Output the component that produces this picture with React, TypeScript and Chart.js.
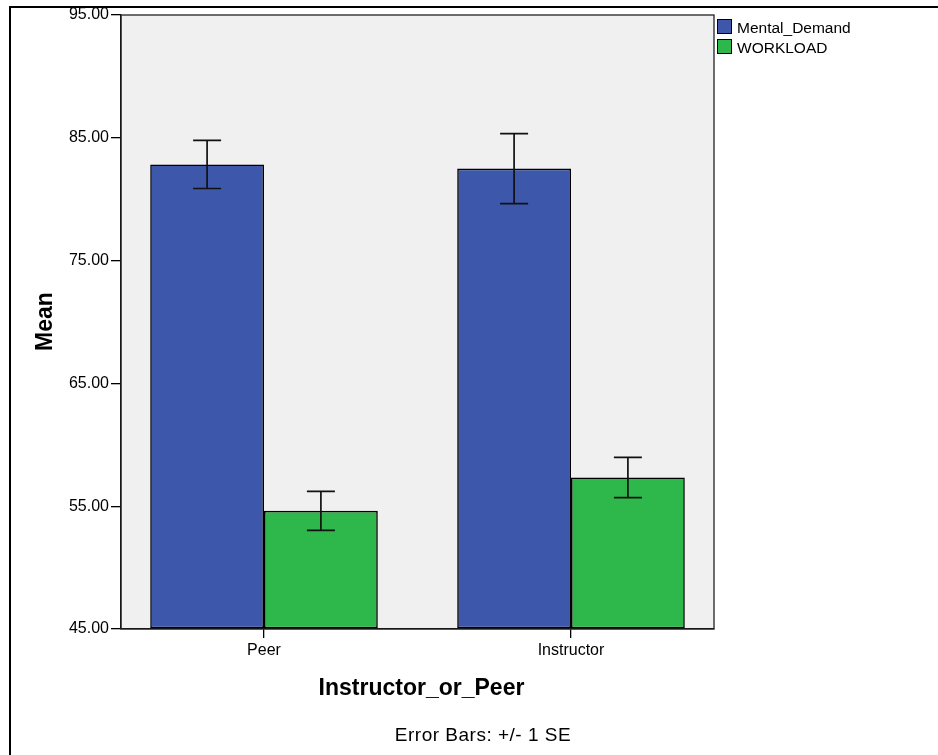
import React, { useEffect, useRef } from 'react';
import { Chart, registerables } from 'chart.js';

Chart.register(...registerables);

const CATEGORIES = ['Peer', 'Instructor'];
const SERIES_NAMES = ['Mental_Demand', 'WORKLOAD'];
const MENTAL_DEMAND = [82.83, 82.49];
const MENTAL_DEMAND_SE = [1.96, 2.85];
const WORKLOAD = [54.62, 57.34];
const WORKLOAD_SE = [1.59, 1.64];
const Y_MIN = 45;
const Y_MAX = 95;
const Y_STEP = 10;
const Y_TITLE = 'Mean';
const X_TITLE = 'Instructor_or_Peer';
const FOOTNOTE = 'Error Bars: +/- 1 SE';

const BLUE = '#3d58ab';
const GREEN = '#2eb84b';
const FONT = "'Liberation Sans', Arial, Helvetica, sans-serif";

const W = 938;
const H = 755;

const decorPlugin = {
  id: 'decor',
  beforeDraw(chart: any) {
    const { ctx, chartArea } = chart;
    ctx.save();
    ctx.fillStyle = '#ffffff';
    ctx.fillRect(0, 0, W, H);
    ctx.fillStyle = '#f0f0f0';
    ctx.fillRect(chartArea.left, chartArea.top, chartArea.right - chartArea.left, chartArea.bottom - chartArea.top);
    ctx.restore();
  },
  afterDatasetsDraw(chart: any) {
    const { ctx, chartArea } = chart;
    const yScale = chart.scales.y;
    ctx.save();
    // error bars
    chart.data.datasets.forEach((ds: any, di: number) => {
      const meta = chart.getDatasetMeta(di);
      meta.data.forEach((el: any, i: number) => {
        const v = ds.data[i].y;
        const se = ds.se[i];
        const x = el.x;
        const yTop = yScale.getPixelForValue(v + se);
        const yBot = yScale.getPixelForValue(v - se);
        ctx.strokeStyle = '#111111';
        ctx.lineWidth = 1.7;
        ctx.beginPath();
        ctx.moveTo(x, yTop);
        ctx.lineTo(x, yBot);
        ctx.moveTo(x - 14, yTop);
        ctx.lineTo(x + 14, yTop);
        ctx.moveTo(x - 14, yBot);
        ctx.lineTo(x + 14, yBot);
        ctx.stroke();
      });
    });
    // plot frame
    ctx.strokeStyle = '#222222';
    ctx.lineWidth = 1.3;
    ctx.strokeRect(chartArea.left, chartArea.top, chartArea.right - chartArea.left, chartArea.bottom - chartArea.top);
    ctx.restore();
  },
  afterDraw(chart: any) {
    const { ctx, chartArea } = chart;
    ctx.save();
    // outer frame
    ctx.fillStyle = '#000000';
    ctx.fillRect(9, 6, 2, H - 6);
    ctx.fillRect(9, 6, W - 9, 2);

    ctx.fillStyle = '#000000';
    // y title
    ctx.save();
    ctx.translate(52, 321.5);
    ctx.rotate(-Math.PI / 2);
    ctx.font = `bold 23px ${FONT}`;
    ctx.textAlign = 'center';
    ctx.textBaseline = 'alphabetic';
    ctx.fillText(Y_TITLE, 0, 0);
    ctx.restore();

    // x title
    ctx.font = `bold 23px ${FONT}`;
    ctx.textAlign = 'center';
    ctx.textBaseline = 'alphabetic';
    ctx.fillText(X_TITLE, (chartArea.left + chartArea.right) / 2 + 4, 695);

    // footnote
    ctx.font = `19px ${FONT}`;
    (ctx as any).letterSpacing = '0.5px';
    ctx.fillText(FOOTNOTE, 483, 740.5);
    (ctx as any).letterSpacing = '0px';

    // legend
    ctx.textAlign = 'left';
    ctx.font = `15.5px ${FONT}`;
    chart.data.datasets.forEach((ds: any, i: number) => {
      const by = 19 + i * 20;
      ctx.fillStyle = ds.backgroundColor;
      ctx.fillRect(717, by, 14, 14);
      ctx.strokeStyle = '#000000';
      ctx.lineWidth = 1;
      ctx.strokeRect(717.5, by + 0.5, 14, 14);
      ctx.fillStyle = '#000000';
      ctx.fillText(ds.label, 737, by + 13.5);
    });
    ctx.restore();
  },
};

export default function App() {
  const canvasRef = useRef<HTMLCanvasElement | null>(null);

  useEffect(() => {
    const canvas = canvasRef.current;
    if (!canvas) return;
    const seriesValues = [MENTAL_DEMAND, WORKLOAD];
    const seriesSE = [MENTAL_DEMAND_SE, WORKLOAD_SE];
    const colors = [BLUE, GREEN];
    const chart = new Chart(canvas, {
      type: 'bar',
      data: {
        datasets: SERIES_NAMES.map((name, si) => ({
          label: name,
          data: CATEGORIES.map((_, i) => ({ x: i, y: seriesValues[si][i] })),
          se: seriesSE[si],
          backgroundColor: colors[si],
          borderColor: '#000000',
          borderWidth: 1.6,
          borderSkipped: false,
          categoryPercentage: 0.7414,
          barPercentage: 1,
          base: Y_MIN,
        })) as any,
      },
      options: {
        responsive: false,
        animation: false,
        devicePixelRatio: 1,
        layout: { padding: { left: 0, top: 15, right: W - 714, bottom: 0 } },
        plugins: {
          legend: { display: false },
          tooltip: { enabled: false },
        },
        scales: {
          x: {
            type: 'linear',
            min: -0.4658,
            max: 1.4658,
            offset: false,
            afterBuildTicks: (scale: any) => {
              scale.ticks = CATEGORIES.map((_, i) => ({ value: i }));
            },
            afterFit: (scale: any) => {
              scale.height = H - 629;
            },
            ticks: {
              autoSkip: false,
              maxRotation: 0,
              padding: 3,
              color: '#000000',
              font: { family: FONT, size: 16 },
              callback: (v: any) => CATEGORIES[v] ?? '',
            },
            grid: {
              offset: false,
              drawOnChartArea: false,
              drawTicks: true,
              tickLength: 9,
              color: '#000000',
              lineWidth: 1.3,
            },
            border: { display: true, color: '#000000', width: 1.3 },
          },
          y: {
            type: 'linear',
            min: Y_MIN,
            max: Y_MAX,
            afterFit: (scale: any) => {
              scale.width = 121;
            },
            ticks: {
              stepSize: Y_STEP,
              padding: 2,
              color: '#000000',
              font: { family: FONT, size: 16 },
              callback: (v: any) => Number(v).toFixed(2),
            },
            grid: {
              drawOnChartArea: false,
              drawTicks: true,
              tickLength: 10,
              color: '#000000',
              lineWidth: 1.3,
            },
            border: { display: true, color: '#000000', width: 1.3 },
          },
        },
      } as any,
      plugins: [decorPlugin],
    });
    return () => chart.destroy();
  }, []);

  return (
    <div style={{ position: 'absolute', left: 0, top: 0, width: W, height: H, background: '#ffffff' }}>
      <canvas ref={canvasRef} width={W} height={H} style={{ display: 'block', width: W, height: H }} />
    </div>
  );
}
